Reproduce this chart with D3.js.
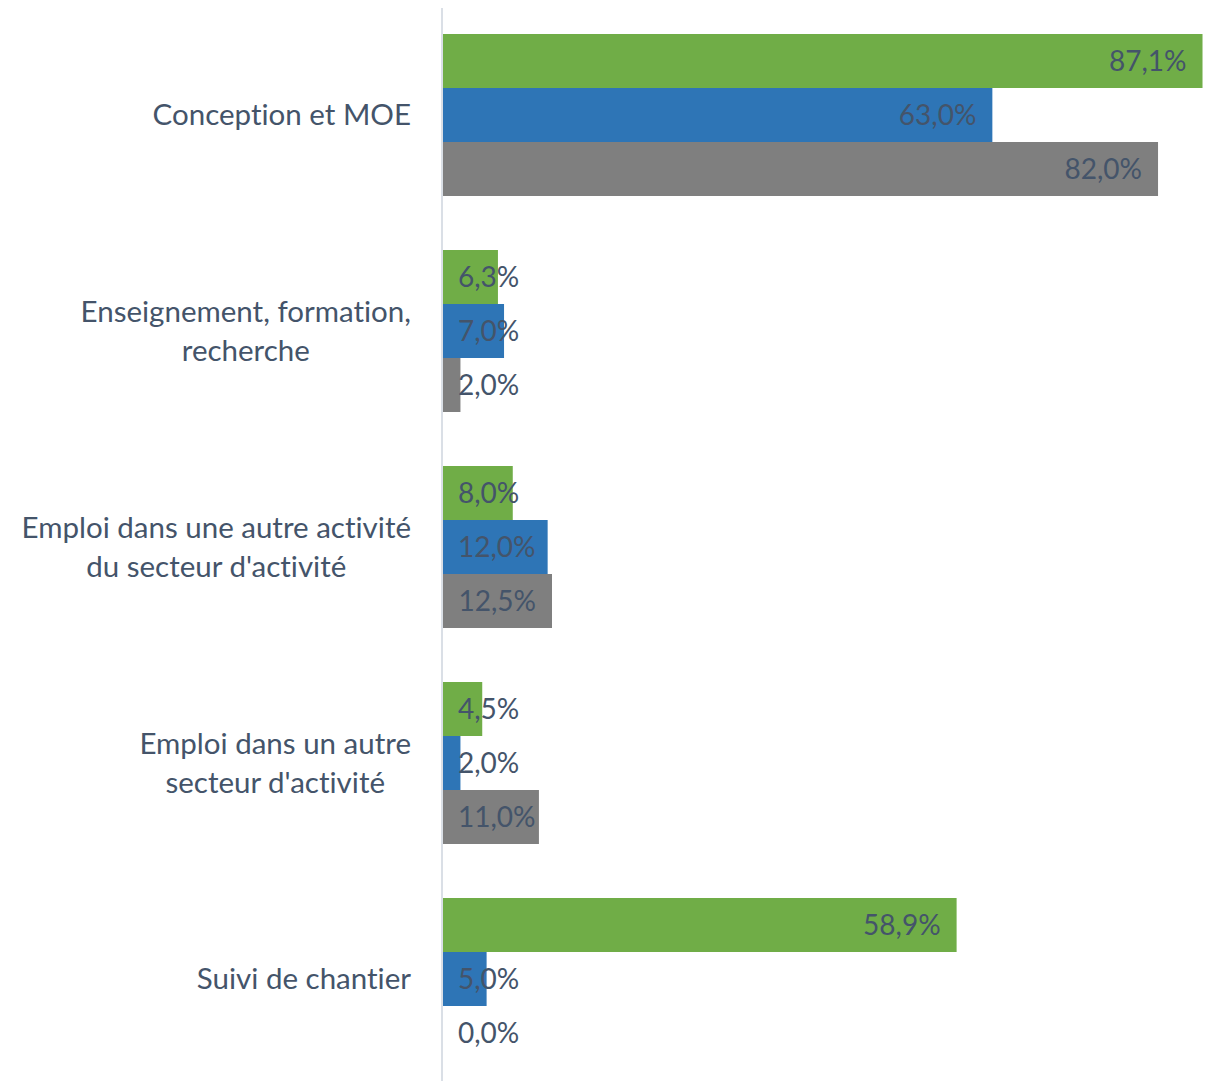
<!DOCTYPE html>
<meta charset="utf-8">
<style>
  body { margin: 0; background: #fff; }
  text { font-family: Lato, "Open Sans", sans-serif; font-variant-ligatures: none; }
</style>
<body></body>
<script src="https://cdn.jsdelivr.net/npm/d3@7/dist/d3.min.js"></script>
<script>
  const width = 1206
  const height = 1081

  // categories (line breaks as in the original labels)
  const categories = [
    "Conception et MOE",
    "Enseignement, formation,\nrecherche",
    "Emploi dans une autre activité\ndu secteur d'activité",
    "Emploi dans un autre\nsecteur d'activité",
    "Suivi de chantier"
  ]
  const seriesKeys = ["s1", "s2", "s3"]
  const seriesColors = ["#70AD47", "#2E75B6", "#7F7F7F"]

  // values in %, one array per series
  const s1Values = [87.1, 6.3, 8.0, 4.5, 58.9]
  const s2Values = [63.0, 7.0, 12.0, 2.0, 5.0]
  const s3Values = [82.0, 2.0, 12.5, 11.0, 0.0]
  const allValues = [s1Values, s2Values, s3Values]

  const textColor = "#44546A"
  const fontSize = 28
  const catFontSize = 29.5

  const rows = []
  categories.forEach((c, i) => {
    seriesKeys.forEach((k, j) => {
      rows.push({ category: c, key: k, value: allValues[j][i], color: seriesColors[j] })
    })
  })

  const svg = d3.select("body")
    .append("svg")
    .attr("width", width)
    .attr("height", height)

  const y = d3.scaleBand()
    .domain(categories)
    .range([7, 1087])
    .paddingInner(0.25)
    .paddingOuter(0.125)

  const ySub = d3.scaleBand()
    .domain(seriesKeys)
    .range([0, y.bandwidth()])

  const x = d3.scaleLinear()
    .domain([0, 100])
    .range([443, 443 + 872])

  // bars
  svg.append("g")
    .selectAll("rect")
    .data(rows)
    .join("rect")
    .attr("x", x(0))
    .attr("y", d => y(d.category) + ySub(d.key))
    .attr("width", d => x(d.value) - x(0))
    .attr("height", ySub.bandwidth())
    .attr("fill", d => d.color)

  // axis line
  svg.append("line")
    .attr("x1", 442).attr("x2", 442)
    .attr("y1", 8).attr("y2", height)
    .attr("stroke", "#DADFE6")
    .attr("stroke-width", 2)

  const fmt = v => d3.format(".1f")(v).replace(".", ",") + "%"

  // value labels: inside end, pushed out to base when they don't fit
  svg.append("g")
    .selectAll("text")
    .data(rows)
    .join("text")
    .attr("y", d => y(d.category) + ySub(d.key) + ySub.bandwidth() / 2)
    .attr("dy", "0.36em")
    .attr("fill", textColor)
    .attr("font-size", fontSize)
    .text(d => fmt(d.value))
    .each(function(d) {
      const w = this.getComputedTextLength()
      const xx = Math.max(x(d.value) - 16 - w, 458)
      d3.select(this).attr("x", xx)
    })

  // category labels
  const labels = svg.append("g")
    .selectAll("text")
    .data(categories)
    .join("text")
    .attr("fill", textColor)
    .attr("font-size", catFontSize)
    .attr("text-anchor", "middle")

  labels.each(function(c) {
    const lines = c.split("\n")
    const t = d3.select(this)
    const cy = y(c) + y.bandwidth() / 2
    const lh = 39
    lines.forEach((l, i) => {
      t.append("tspan")
        .attr("y", cy + (i - (lines.length - 1) / 2) * lh)
        .attr("dy", "0.35em")
        .text(l)
    })
    let maxW = 0
    t.selectAll("tspan").each(function() {
      maxW = Math.max(maxW, this.getComputedTextLength())
    })
    t.selectAll("tspan").attr("x", 411 - maxW / 2)
  })
</script>
